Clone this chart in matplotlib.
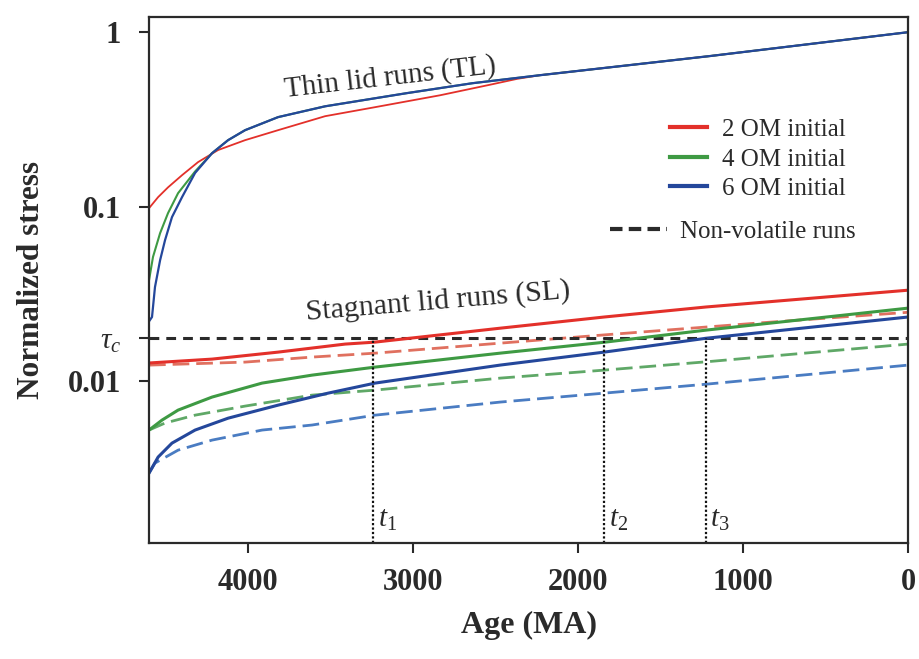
import matplotlib
matplotlib.use("Agg")
import matplotlib.pyplot as plt
from matplotlib.lines import Line2D
from matplotlib.ticker import NullLocator

plt.rcParams['font.family'] = ['Liberation Serif', 'DejaVu Serif']
plt.rcParams['mathtext.fontset'] = 'custom'
plt.rcParams['mathtext.rm'] = 'Liberation Serif'
plt.rcParams['mathtext.it'] = 'Liberation Serif:italic'
plt.rcParams['mathtext.bf'] = 'Liberation Serif:bold'

# Thin lid runs (TL)
tl_blue_age = [4600, 4582, 4564, 4533, 4503, 4461, 4400, 4321, 4218, 4121, 4018, 3818,
               3533, 3040, 2640, 2230, 1200, 0]
tl_blue = [0.022, 0.0233, 0.0346, 0.0493, 0.0643, 0.0871, 0.1134, 0.156, 0.2026, 0.2405,
           0.2744, 0.326, 0.376, 0.447, 0.51, 0.567, 0.73, 1.0]
tl_green_age = [4600, 4576, 4533, 4485, 4424, 4321, 4218, 4121, 4018, 3818,
                3533, 3040, 2640, 2230, 1200, 0]
tl_green = [0.0379, 0.0515, 0.0705, 0.0918, 0.1195, 0.159, 0.2026, 0.2405, 0.2744, 0.326,
            0.376, 0.447, 0.51, 0.567, 0.73, 1.0]
tl_red_age = [4600, 4545, 4485, 4400, 4303, 4182, 4018, 3818, 3533, 3242, 2836, 2533,
              2370, 2230, 1200, 0]
tl_red = [0.098, 0.1134, 0.129, 0.1515, 0.18, 0.211, 0.2405, 0.2744, 0.33, 0.37, 0.435,
          0.50, 0.54, 0.567, 0.73, 1.0]

# Stagnant lid runs (SL): volatile runs solid, non-volatile runs dashed
sl_red_age = [4600, 4218, 3818, 3412, 3230, 2473, 1842, 1224, 0]
sl_red = [0.0127, 0.01337, 0.01466, 0.0163, 0.01673, 0.0201, 0.0233, 0.0266, 0.0332]
nv_red_age = [4600, 4018, 3612, 3230, 2473, 1842, 915, 0]
nv_red = [0.01235, 0.01285, 0.01373, 0.01446, 0.0165, 0.0184, 0.0215, 0.0248]
sl_green_age = [4600, 4521, 4424, 4218, 3915, 3612, 3230, 2473, 1842, 1224, 0]
sl_green = [0.00524, 0.00598, 0.00682, 0.0081, 0.00974, 0.01082, 0.01203, 0.01446, 0.0167,
            0.0196, 0.0262]
nv_green_age = [4600, 4503, 4321, 4018, 3612, 3230, 2473, 1842, 1224, 0]
nv_green = [0.00524, 0.00575, 0.00638, 0.00719, 0.00831, 0.00888, 0.0104, 0.01156, 0.0129, 0.0163]
sl_blue_age = [4600, 4545, 4461, 4321, 4121, 3818, 3515, 3230, 2473, 1842, 1224, 0]
sl_blue = [0.00297, 0.00367, 0.00441, 0.00524, 0.00613, 0.00728, 0.00853, 0.00974, 0.01235,
           0.01466, 0.0176, 0.0233]
nv_blue_age = [4600, 4564, 4424, 4218, 3915, 3612, 3230, 2473, 1842, 1224, 0]
nv_blue = [0.00297, 0.00339, 0.00402, 0.00459, 0.00524, 0.0056, 0.00638, 0.00758, 0.00853,
           0.0096, 0.01235]

tau_c = 0.0176
t_ages = [3240, 1840, 1225]
t_labels = ['$t_{\\mathit{1}}$', '$t_{\\mathit{2}}$', '$t_{\\mathit{3}}$']
legend_labels = ['2 OM initial', '4 OM initial', '6 OM initial']

red, green, blue = '#e3302a', '#3e9a43', '#24479b'
red_nv, green_nv, blue_nv = '#e0705f', '#5fa867', '#4a7cc2'
ink = '#2a2a2a'

fig = plt.figure(figsize=(9.2, 6.59), dpi=100)
ax = fig.add_axes([0.162, 0.176, 0.825, 0.798])
ax.set_yscale('log')
ax.set_xlim(4600, 0)
ax.set_ylim(0.00118, 1.22)

# thin lid curves
ax.plot(tl_red_age, tl_red, color=red, lw=1.3)
ax.plot(tl_green_age, tl_green, color=green, lw=1.5)
ax.plot(tl_blue_age, tl_blue, color=blue, lw=1.6)

# non-volatile runs and critical stress
dash = (0, (6, 2.5))
ax.plot(nv_red_age, nv_red, color=red_nv, lw=2, ls=dash)
ax.plot(nv_green_age, nv_green, color=green_nv, lw=2, ls=dash)
ax.plot(nv_blue_age, nv_blue, color=blue_nv, lw=2, ls=dash)
ax.axhline(tau_c, color=ink, lw=2.2, ls=(0, (3.2, 2.3)))

# stagnant lid curves
ax.plot(sl_red_age, sl_red, color=red, lw=2.2)
ax.plot(sl_green_age, sl_green, color=green, lw=2.2)
ax.plot(sl_blue_age, sl_blue, color=blue, lw=2.2)

# times at which stress reaches tau_c
for t, lab in zip(t_ages, t_labels):
    ax.plot([t, t], [0.00118, tau_c], color='#111111', lw=1.6, ls=(0, (1, 1)))
    ax.annotate(lab, (t, 0.0016), xytext=(3, 0), textcoords='offset points',
                ha='left', va='center', fontsize=21, color=ink)

ax.text(3139, 0.55, 'Thin lid runs (TL)', fontsize=21, color=ink,
        rotation=6.5, rotation_mode='anchor', ha='center', va='center')
ax.text(2848, 0.0285, 'Stagnant lid runs (SL)', fontsize=21.5, color=ink,
        rotation=4.8, rotation_mode='anchor', ha='center', va='center')

ax.set_xticks([4000, 3000, 2000, 1000, 0])
ax.set_xticklabels(['4000', '3000', '2000', '1000', '0'])
ax.set_yticks([0.01, tau_c, 0.1, 1])
ax.set_yticklabels(['0.01', '$\\tau_c$', '0.1', '1'])
ax.yaxis.set_minor_locator(NullLocator())
ax.tick_params(direction='out', length=7, width=1.5, colors=ink, labelsize=22)
ax.tick_params(axis='x', pad=11)
ax.tick_params(axis='y', pad=13)
for lab in ax.get_xticklabels() + ax.get_yticklabels():
    lab.set_fontweight('bold')
ax.get_yticklabels()[1].set_fontsize(21)
for sp in ax.spines.values():
    sp.set_linewidth(1.6)
    sp.set_color(ink)

ax.set_xlabel('Age (MA)', fontsize=23, fontweight='bold', color=ink, labelpad=10)
ax.set_ylabel('Normalized stress', fontsize=22.5, fontweight='bold', color=ink, labelpad=16)

handles = [Line2D([], [], color=c, lw=3) for c in (red, green, blue)]
leg1 = ax.legend(handles, legend_labels, loc='upper left', bbox_to_anchor=(0.686, 0.807),
                 frameon=False, fontsize=18, handlelength=1.5, handletextpad=0.6,
                 labelspacing=0.28, borderpad=0, borderaxespad=0, labelcolor=ink)
ax.add_artist(leg1)
ax.legend([Line2D([], [], color=ink, lw=3, ls=(0, (3, 1.5)))], ['Non-volatile runs'],
          loc='upper left', bbox_to_anchor=(0.607, 0.613), frameon=False, fontsize=18,
          handlelength=2.3, handletextpad=0.5, borderpad=0, borderaxespad=0, labelcolor=ink)

fig.savefig('out.png', dpi=100)
